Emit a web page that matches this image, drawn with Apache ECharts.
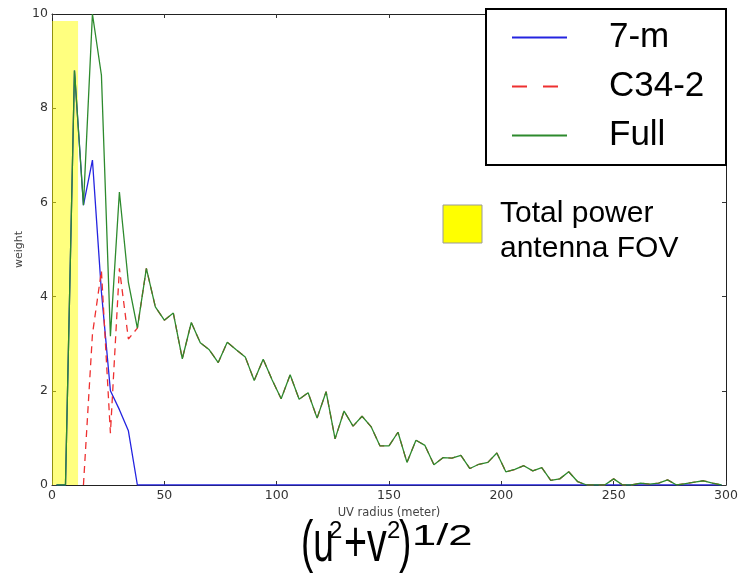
<!DOCTYPE html>
<html><head><meta charset="utf-8">
<script src="https://cdn.jsdelivr.net/npm/echarts@6/dist/echarts.min.js"></script>
<style>html,body{margin:0;padding:0;background:#fff}#c{width:743px;height:577px}</style>
</head><body><div id="c"></div>
<script>
// UV radius bin centres (meter)
const uvRadius = [2,6,10,14,18,22,26,30,34,38,42,46,50,54,58,62,66,70,74,78,
  82,86,90,94,98,102,106,110,114,118,122,126,130,134,138,142,146,150,154,158,
  162,166,170,174,178,182,186,190,194,198,202,206,210,214,218,222,226,230,234,238,
  242,246,250,254,258,262,266,270,274,278,282,286,290,294,298];
// 7-m array weight
const weight7m = [0,0,8.8,5.94,6.9,4.1,2.0,1.6,1.15,0,0,0,0,0,0,0,0,0,0,0,
  0,0,0,0,0,0,0,0,0,0,0,0,0,0,0,0,0,0,0,0,
  0,0,0,0,0,0,0,0,0,0,0,0,0,0,0,0,0,0,0,0,
  0,0,0,0,0,0,0,0,0,0,0,0,0,0,0];
// C34-2 weight (null = not plotted)
const weightC34 = [null,null,null,0,3.2,4.55,1.1,4.6,3.1,3.33,4.6,3.78,3.5,3.65,2.68,3.45,3.02,2.87,2.6,3.03,
  2.87,2.72,2.22,2.67,2.23,1.83,2.34,1.82,1.96,1.42,1.98,0.98,1.57,1.25,1.46,1.24,0.83,0.83,1.12,0.48,
  0.95,0.84,0.43,0.58,0.57,0.63,0.35,0.44,0.48,0.68,0.28,0.33,0.41,0.3,0.37,0.1,0.13,0.28,0.07,0,
  0,0,0.13,0,0,0.04,0.02,0.04,0.11,0,0.03,0.06,0.09,0.04,0];
// Full array weight
const weightFull = [0,0,8.8,5.94,10.0,8.7,3.16,6.22,4.3,3.33,4.6,3.78,3.5,3.65,2.68,3.45,3.02,2.87,2.6,3.03,
  2.87,2.72,2.22,2.67,2.23,1.83,2.34,1.82,1.96,1.42,1.98,0.98,1.57,1.25,1.46,1.24,0.83,0.83,1.12,0.48,
  0.95,0.84,0.43,0.58,0.57,0.63,0.35,0.44,0.48,0.68,0.28,0.33,0.41,0.3,0.37,0.1,0.13,0.28,0.07,0,
  0,0,0.13,0,0,0.04,0.02,0.04,0.11,0,0.03,0.06,0.09,0.04,0];
// Total power antenna FOV region
const fovRadius = 11.6;
const fovTop = 9.85;
const seriesNames = ['7-m', 'C34-2', 'Full'];

const pairs = arr => uvRadius.map((x, i) => [x, arr[i]]).filter(p => p[1] !== null);

const chart = echarts.init(document.getElementById('c'), null, {renderer: 'canvas'});
const tickCol = '#333';
const labelFont = {fontFamily: 'DejaVu Sans', fontSize: 12.5, color: '#333'};
const mainFont = 'Liberation Sans';

const xBase = {
  type: 'value', min: 0, max: 300, interval: 50,
  splitLine: {show: false},
  axisLine: {show: true, onZero: false, lineStyle: {color: '#222', width: 1}},
  axisTick: {show: true, inside: true, length: 4, lineStyle: {color: tickCol}}
};
const yBase = {
  type: 'value', min: 0, max: 10, interval: 2,
  splitLine: {show: false},
  axisLine: {show: true, onZero: false, lineStyle: {color: '#222', width: 1}},
  axisTick: {show: true, inside: true, length: 4, lineStyle: {color: tickCol}}
};

chart.setOption({
  animation: false,
  backgroundColor: '#fff',
  grid: {left: 52, right: 17, top: 14, bottom: 92, containLabel: false},
  xAxis: [
    Object.assign({}, xBase, {
      position: 'bottom',
      name: 'UV radius (meter)', nameLocation: 'middle', nameGap: 22, nameMoveOverlap: false,
      nameTextStyle: {fontFamily: 'DejaVu Sans', fontSize: 11.5, color: '#444'},
      axisLabel: Object.assign({margin: 4}, labelFont)
    }),
    Object.assign({}, xBase, {position: 'top', axisLabel: {show: false}})
  ],
  yAxis: [
    Object.assign({}, yBase, {
      position: 'left',
      name: 'weight', nameLocation: 'middle', nameGap: 27, nameMoveOverlap: false,
      nameTextStyle: {fontFamily: 'DejaVu Sans', fontSize: 11, color: '#444'},
      axisLabel: Object.assign({margin: 4}, labelFont)
    }),
    Object.assign({}, yBase, {position: 'right', axisLabel: {show: false}})
  ],
  legend: {
    orient: 'vertical', left: 511, top: 20, padding: 0, z: 10,
    itemWidth: 55, itemHeight: 36, itemGap: 14,
    itemStyle: {opacity: 0},
    textStyle: {fontFamily: mainFont, fontSize: 35, color: '#000', padding: [0, 0, 0, 37]},
    data: [
      {name: seriesNames[0], lineStyle: {width: 2}},
      {name: seriesNames[1], lineStyle: {width: 2, type: [15, 16]}},
      {name: seriesNames[2], lineStyle: {width: 2}}
    ]
  },
  series: [
    {
      type: 'line', name: 'fov', data: [], silent: true,
      markArea: {
        silent: true,
        itemStyle: {color: 'rgba(255,255,0,0.5)'},
        data: [[{coord: [0, 0]}, {coord: [fovRadius, fovTop]}]]
      }
    },
    {
      type: 'line', name: seriesNames[0], data: pairs(weight7m),
      showSymbol: false, symbol: 'none', z: 3,
      lineStyle: {color: '#2424e0', width: 1.3}, itemStyle: {color: '#2424e0'}
    },
    {
      type: 'line', name: seriesNames[1], data: pairs(weightC34),
      showSymbol: false, symbol: 'none', z: 3,
      lineStyle: {color: '#ee3030', width: 1.3, type: [7, 5]}, itemStyle: {color: '#ee2020'}
    },
    {
      type: 'line', name: seriesNames[2], data: pairs(weightFull),
      showSymbol: false, symbol: 'none', z: 4,
      lineStyle: {color: '#2d8a2d', width: 1.3}, itemStyle: {color: '#108010'}
    }
  ],
  graphic: {
    elements: [
      {type: 'rect', z: 8, shape: {x: 486, y: 9, width: 240, height: 156},
        style: {fill: '#fff', stroke: '#000', lineWidth: 2}},
      {type: 'rect', z: 8, shape: {x: 443, y: 205, width: 39, height: 38},
        style: {fill: '#ffff00', stroke: '#999', lineWidth: 1}},
      {type: 'text', z: 8, x: 500, y: 214,
        style: {text: 'Total power', font: '30px "Liberation Sans"', fill: '#000', align: 'left', verticalAlign: 'middle'}},
      {type: 'text', z: 8, x: 500, y: 249,
        style: {text: 'antenna FOV', font: '30px "Liberation Sans"', fill: '#000', align: 'left', verticalAlign: 'middle'}},
      {type: 'text', z: 8, x: 301, y: 545, scaleX: 0.64,
        style: {text: '(u', font: '58px "Liberation Sans"', fill: '#000', align: 'left', verticalAlign: 'middle'}},
      {type: 'text', z: 8, x: 329, y: 531, scaleX: 1,
        style: {text: '2', font: '24px "Liberation Sans"', fill: '#000', align: 'left', verticalAlign: 'middle'}},
      {type: 'text', z: 8, x: 344, y: 545, scaleX: 0.68,
        style: {text: '+v', font: '58px "Liberation Sans"', fill: '#000', align: 'left', verticalAlign: 'middle'}},
      {type: 'text', z: 8, x: 387, y: 531, scaleX: 1,
        style: {text: '2', font: '24px "Liberation Sans"', fill: '#000', align: 'left', verticalAlign: 'middle'}},
      {type: 'text', z: 8, x: 399, y: 545, scaleX: 0.64,
        style: {text: ')', font: '58px "Liberation Sans"', fill: '#000', align: 'left', verticalAlign: 'middle'}},
      {type: 'text', z: 8, x: 412, y: 537, scaleX: 1.45,
        style: {text: '1/2', font: '30px "Liberation Sans"', fill: '#000', align: 'left', verticalAlign: 'middle'}}
    ]
  }
});
</script>
</body></html>
